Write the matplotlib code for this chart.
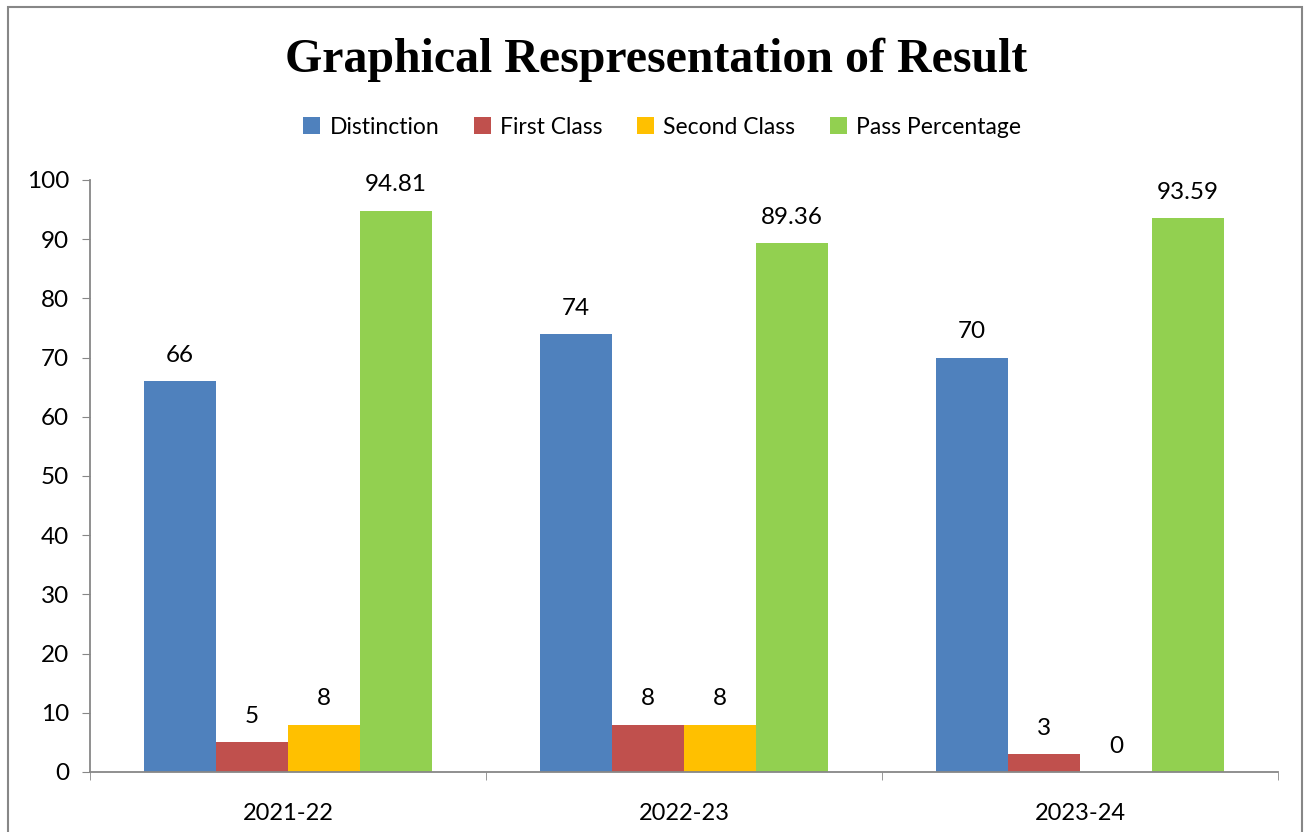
import numpy as np
import matplotlib
matplotlib.use('Agg')
import matplotlib.pyplot as plt
from matplotlib.patches import Rectangle

plt.rcParams['font.family'] = ['Lato', 'DejaVu Sans']

# Data
years = ['2021-22', '2022-23', '2023-24']
series = ['Distinction', 'First Class', 'Second Class', 'Pass Percentage']
distinction = [66, 74, 70]
first_class = [5, 8, 3]
second_class = [8, 8, 0]
pass_pct = [94.81, 89.36, 93.59]
labels_fmt = ['{:g}', '{:g}', '{:g}', '{:.2f}']

colors = ['#4F81BD', '#C0504D', '#FFC000', '#92D050']

fig = plt.figure(figsize=(13.1, 8.32), dpi=100)
ax = fig.add_axes([90 / 1310, 1 - 772 / 832, (1278 - 90) / 1310, (772 - 180) / 832])

x = np.arange(len(years))
width = 0.182
values = [distinction, first_class, second_class, pass_pct]
for i, (name, vals) in enumerate(zip(series, values)):
    pos = x + (i - 1.5) * width
    bars = ax.bar(pos, vals, width, color=colors[i], label=name, zorder=2)
    for b, v in zip(bars, vals):
        ax.annotate(labels_fmt[i].format(v), (b.get_x() + b.get_width() / 2, v),
                    xytext=(0, 11), textcoords='offset points',
                    ha='center', va='bottom', fontsize=17.5)

ax.set_xlim(-0.5, 2.5)
ax.set_ylim(0, 100)
ax.set_yticks(range(0, 101, 10))
ax.set_xticks(x)
ax.set_xticklabels(years)
ax.set_xticks([-0.5, 0.5, 1.5, 2.5], minor=True)
ax.tick_params(axis='x', which='major', length=0, pad=22, labelsize=17)
ax.tick_params(axis='x', which='minor', length=6, color='#878787', direction='out')
ax.tick_params(axis='y', length=6, color='#878787', labelsize=17.5, pad=9)
for s in ['top', 'right']:
    ax.spines[s].set_visible(False)
for s in ['left', 'bottom']:
    ax.spines[s].set_color('#878787')
    ax.spines[s].set_linewidth(1.3)

fig.text(656 / 1310, 1 - 60 / 832, 'Graphical Respresentation of Result',
         ha='center', va='center', fontsize=34.5, fontweight='bold',
         family='Liberation Serif')

fig.legend(loc='center', bbox_to_anchor=(662 / 1310, 1 - 127 / 832), ncol=4,
           frameon=False, fontsize=16.5, handlelength=0.75, handleheight=0.75,
           handletextpad=0.4, columnspacing=1.5)

# Outer border of the chart
fig.patches.append(Rectangle((8 / 1310, -0.05), (1302 - 8) / 1310, 1.05 - 7 / 832,
                             transform=fig.transFigure, fill=False,
                             edgecolor='#878787', linewidth=1.5))

plt.savefig('out.png', dpi=100)
